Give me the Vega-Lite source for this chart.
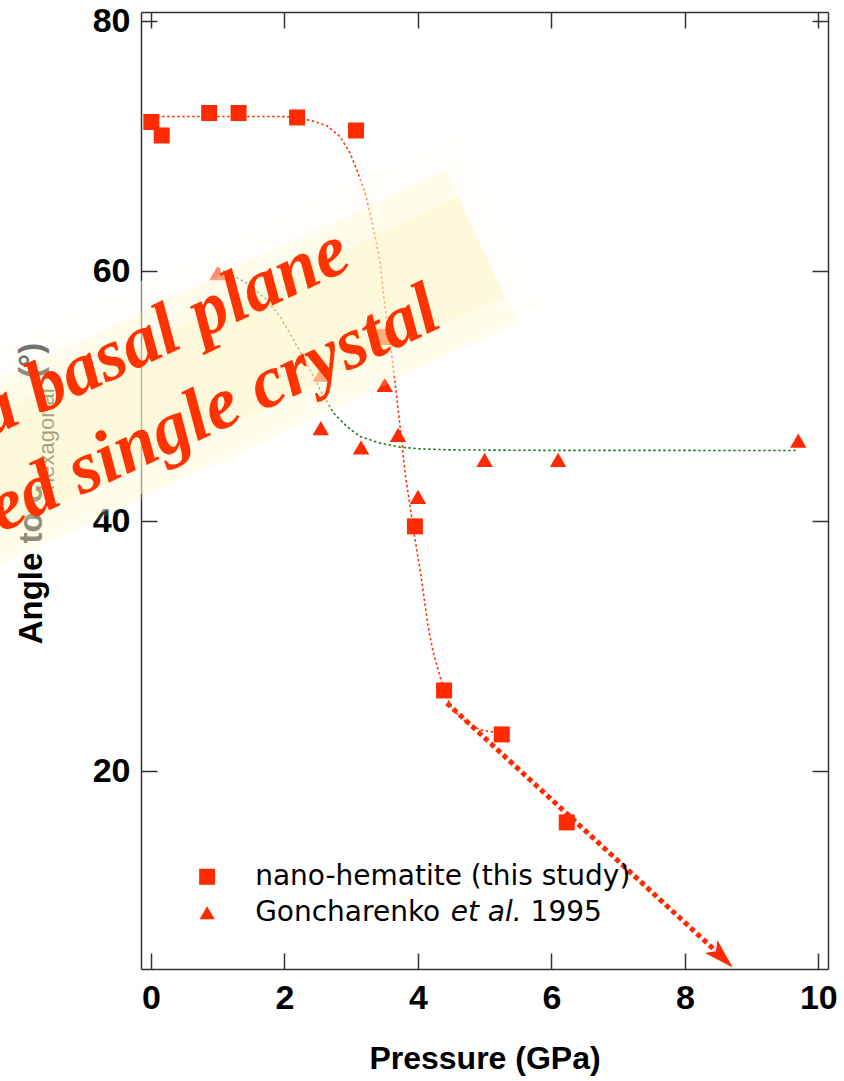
{
  "$schema": "https://vega.github.io/schema/vega-lite/v6.json",
  "autosize": {"type": "none"},
  "padding": {"left": 141, "top": 12, "right": 16, "bottom": 112},
  "width": 687,
  "height": 957,
  "background": "white",
  "config": {"view": {"stroke": null}},
  "datasets": {
    "squares": [
      {"p": 0.007, "a": 71.94}, {"p": 0.162, "a": 70.86}, {"p": 0.873, "a": 72.66},
      {"p": 1.314, "a": 72.66}, {"p": 2.191, "a": 72.30}, {"p": 3.074, "a": 71.26},
      {"p": 3.504, "a": 54.73}, {"p": 3.956, "a": 39.58}, {"p": 4.393, "a": 26.45},
      {"p": 5.258, "a": 22.93}, {"p": 6.231, "a": 15.89}
    ],
    "triangles": [
      {"p": 0.999, "a": 59.84}, {"p": 2.546, "a": 51.73}, {"p": 2.546, "a": 47.44},
      {"p": 3.149, "a": 45.91}, {"p": 3.504, "a": 50.90}, {"p": 3.704, "a": 46.90},
      {"p": 4.002, "a": 41.94}, {"p": 5.000, "a": 44.90}, {"p": 6.101, "a": 44.90},
      {"p": 9.700, "a": 46.45}
    ],
    "fitRed": [
      {"p": 0.019, "a": 72.38}, {"p": 0.738, "a": 72.38}, {"p": 1.488, "a": 72.38},
      {"p": 2.042, "a": 72.37}, {"p": 2.237, "a": 72.24}, {"p": 2.431, "a": 72.02},
      {"p": 2.641, "a": 71.62}, {"p": 2.835, "a": 70.77}, {"p": 2.985, "a": 69.44},
      {"p": 3.105, "a": 67.84}, {"p": 3.210, "a": 66.24}, {"p": 3.285, "a": 64.64},
      {"p": 3.360, "a": 62.77}, {"p": 3.435, "a": 60.66}, {"p": 3.495, "a": 57.70},
      {"p": 3.585, "a": 54.26}, {"p": 3.659, "a": 51.06}, {"p": 3.734, "a": 47.54},
      {"p": 3.809, "a": 43.86}, {"p": 3.884, "a": 41.14}, {"p": 3.959, "a": 38.50},
      {"p": 4.049, "a": 35.54}, {"p": 4.154, "a": 31.54}, {"p": 4.229, "a": 29.54},
      {"p": 4.333, "a": 27.54}, {"p": 4.408, "a": 26.26}, {"p": 4.483, "a": 25.30},
      {"p": 4.603, "a": 24.50}, {"p": 4.738, "a": 23.86}, {"p": 4.933, "a": 23.30},
      {"p": 5.127, "a": 23.12}, {"p": 5.232, "a": 23.06}
    ],
    "fitGreen": [
      {"p": 1.013, "a": 60.24}, {"p": 1.438, "a": 59.04}, {"p": 1.738, "a": 57.70},
      {"p": 1.937, "a": 56.37}, {"p": 2.136, "a": 54.50}, {"p": 2.337, "a": 52.64},
      {"p": 2.537, "a": 50.50}, {"p": 2.737, "a": 48.64}, {"p": 2.937, "a": 47.57},
      {"p": 3.135, "a": 46.77}, {"p": 3.435, "a": 46.24}, {"p": 3.734, "a": 45.92},
      {"p": 4.034, "a": 45.78}, {"p": 4.483, "a": 45.70}, {"p": 5.981, "a": 45.66},
      {"p": 7.479, "a": 45.66}, {"p": 9.681, "a": 45.65}
    ],
    "band": [{"p": -3.755, "a": 41.63}, {"p": 5.268, "a": 64.26}],
    "glow": [{"p": -3.755, "a": 40.20}, {"p": 4.950, "a": 62.00}],
    "arrow": [{"p": 4.435, "a": 25.44}, {"p": 8.435, "a": 5.74}],
    "arrowHead": [{"p": 8.556, "a": 5.12}],
    "overlay": [
      {"p": 3.045, "a": 60.30, "t": "a basal plane"},
      {"p": 4.395, "a": 55.60, "t": "ed single crystal"}
    ],
    "ytitleBig": [
      {"p": -1.628, "a": 30.14, "t": "Angle to c"},
      {"p": -1.628, "a": 51.46, "t": "(°)"}
    ],
    "ytitleSub": [{"p": -1.449, "a": 42.50, "t": "hexagonal"}],
    "legSquare": [{"p": 0.843, "a": 11.54}],
    "legTriangle": [{"p": 0.843, "a": 8.66}],
    "legText": [
      {"p": 1.562, "a": 11.54, "t": "nano-hematite (this study)"},
      {"p": 1.562, "a": 8.66, "t": "Goncharenko"},
      {"p": 5.689, "a": 8.66, "t": "1995"}
    ],
    "legItalic": [{"p": 4.492, "a": 8.66, "t": "et al."}]
  },
  "resolve": {"axis": {"x": "independent", "y": "independent"}},
  "layer": [
    {
      "data": {"name": "fitRed"},
      "mark": {"type": "line", "color": "#ff3300", "strokeWidth": 1.6, "strokeDash": [2.5, 2.5], "clip": false},
      "encoding": {
        "x": {"field": "p", "type": "quantitative", "scale": {"domain": [-0.148, 10.145], "nice": false, "zero": false},
          "axis": {"orient": "bottom", "values": [0, 2, 4, 6, 8, 10], "tickSize": -16, "tickColor": "#333", "tickWidth": 1.5,
            "domainColor": "#333", "domainWidth": 1.5, "grid": false, "labelFont": "Liberation Sans", "labelFontSize": 34,
            "labelFontWeight": "bold", "labelColor": "#000", "labelPadding": 28, "labelFlush": false,
            "title": "Pressure (GPa)", "titleFont": "Liberation Sans", "titleFontSize": 32, "titleFontWeight": "bold",
            "titleColor": "#000", "titlePadding": 28}},
        "y": {"field": "a", "type": "quantitative", "scale": {"domain": [4.16, 80.74], "nice": false, "zero": false},
          "axis": {"orient": "left", "values": [20, 40, 60, 80], "tickSize": -16, "tickColor": "#333", "tickWidth": 1.5,
            "domainColor": "#333", "domainWidth": 1.5, "grid": false, "labelFont": "Liberation Sans", "labelFontSize": 34,
            "labelFontWeight": "bold", "labelColor": "#000", "labelPadding": 27, "labelFlush": false, "title": null}}
      }
    },
    {
      "data": {"name": "fitGreen"},
      "mark": {"type": "line", "color": "#1e7b1e", "strokeWidth": 1.6, "strokeDash": [2.5, 2.5], "clip": false},
      "encoding": {
        "x": {"field": "p", "type": "quantitative", "scale": {"domain": [-0.148, 10.145], "nice": false, "zero": false},
          "axis": {"orient": "top", "values": [0, 2, 4, 6, 8, 10], "tickSize": -16, "tickColor": "#333", "tickWidth": 1.5,
            "domainColor": "#333", "domainWidth": 1.5, "grid": false, "labels": false, "title": null}},
        "y": {"field": "a", "type": "quantitative", "scale": {"domain": [4.16, 80.74], "nice": false, "zero": false},
          "axis": {"orient": "right", "values": [20, 40, 60, 80], "tickSize": -16, "tickColor": "#333", "tickWidth": 1.5,
            "domainColor": "#333", "domainWidth": 1.5, "grid": false, "labels": false, "title": null}}
      }
    },
    {
      "data": {"name": "squares"},
      "mark": {"type": "point", "shape": "square", "filled": true, "size": 256, "color": "#ff2a00", "opacity": 1},
      "encoding": {
        "x": {"field": "p", "type": "quantitative", "scale": {"domain": [-0.148, 10.145], "nice": false, "zero": false}, "axis": null},
        "y": {"field": "a", "type": "quantitative", "scale": {"domain": [4.16, 80.74], "nice": false, "zero": false}, "axis": null}
      }
    },
    {
      "data": {"name": "triangles"},
      "mark": {"type": "point", "shape": "triangle-up", "filled": true, "size": 270, "color": "#ff2a00", "opacity": 1},
      "encoding": {
        "x": {"field": "p", "type": "quantitative", "scale": {"domain": [-0.148, 10.145], "nice": false, "zero": false}, "axis": null},
        "y": {"field": "a", "type": "quantitative", "scale": {"domain": [4.16, 80.74], "nice": false, "zero": false}, "axis": null}
      }
    },
    {
      "data": {"name": "ytitleBig"},
      "mark": {"type": "text", "angle": 270, "align": "left", "baseline": "alphabetic", "font": "Liberation Sans", "fontSize": 33, "fontWeight": "bold", "color": "#000"},
      "encoding": {
        "x": {"field": "p", "type": "quantitative", "scale": {"domain": [-0.148, 10.145], "nice": false, "zero": false}, "axis": null},
        "y": {"field": "a", "type": "quantitative", "scale": {"domain": [4.16, 80.74], "nice": false, "zero": false}, "axis": null},
        "text": {"field": "t"}
      }
    },
    {
      "data": {"name": "ytitleSub"},
      "mark": {"type": "text", "angle": 270, "align": "left", "baseline": "alphabetic", "font": "Liberation Sans", "fontSize": 22, "color": "#000"},
      "encoding": {
        "x": {"field": "p", "type": "quantitative", "scale": {"domain": [-0.148, 10.145], "nice": false, "zero": false}, "axis": null},
        "y": {"field": "a", "type": "quantitative", "scale": {"domain": [4.16, 80.74], "nice": false, "zero": false}, "axis": null},
        "text": {"field": "t"}
      }
    },
    {
      "data": {"name": "band"},
      "mark": {"type": "line", "color": "#fefdf6", "strokeWidth": 193, "strokeCap": "butt", "opacity": 0.45, "clip": false},
      "encoding": {
        "x": {"field": "p", "type": "quantitative", "scale": {"domain": [-0.148, 10.145], "nice": false, "zero": false}, "axis": null},
        "y": {"field": "a", "type": "quantitative", "scale": {"domain": [4.16, 80.74], "nice": false, "zero": false}, "axis": null}
      }
    },
    {
      "data": {"name": "glow"},
      "mark": {"type": "line", "color": "#fff3b0", "strokeWidth": 170, "strokeCap": "butt", "opacity": 0.2, "clip": false},
      "encoding": {
        "x": {"field": "p", "type": "quantitative", "scale": {"domain": [-0.148, 10.145], "nice": false, "zero": false}, "axis": null},
        "y": {"field": "a", "type": "quantitative", "scale": {"domain": [4.16, 80.74], "nice": false, "zero": false}, "axis": null}
      }
    },
    {
      "data": {"name": "glow"},
      "mark": {"type": "line", "color": "#fff0a0", "strokeWidth": 110, "strokeCap": "butt", "opacity": 0.2, "clip": false},
      "encoding": {
        "x": {"field": "p", "type": "quantitative", "scale": {"domain": [-0.148, 10.145], "nice": false, "zero": false}, "axis": null},
        "y": {"field": "a", "type": "quantitative", "scale": {"domain": [4.16, 80.74], "nice": false, "zero": false}, "axis": null}
      }
    },
    {
      "data": {"name": "overlay"},
      "mark": {"type": "text", "angle": 335, "align": "right", "baseline": "alphabetic", "font": "'Times New Roman', 'Liberation Serif', serif", "fontSize": 74, "fontStyle": "italic", "fontWeight": "bold", "color": "#ff3300"},
      "encoding": {
        "x": {"field": "p", "type": "quantitative", "scale": {"domain": [-0.148, 10.145], "nice": false, "zero": false}, "axis": null},
        "y": {"field": "a", "type": "quantitative", "scale": {"domain": [4.16, 80.74], "nice": false, "zero": false}, "axis": null},
        "text": {"field": "t"}
      }
    },
    {
      "data": {"name": "arrow"},
      "mark": {"type": "line", "color": "#ff2a00", "strokeWidth": 5, "strokeDash": [5, 3.5], "strokeCap": "butt", "clip": false},
      "encoding": {
        "x": {"field": "p", "type": "quantitative", "scale": {"domain": [-0.148, 10.145], "nice": false, "zero": false}, "axis": null},
        "y": {"field": "a", "type": "quantitative", "scale": {"domain": [4.16, 80.74], "nice": false, "zero": false}, "axis": null}
      }
    },
    {
      "data": {"name": "arrowHead"},
      "mark": {"type": "point", "shape": "M0,-1 L0.6,1 L0,0.55 L-0.6,1 Z", "filled": true, "size": 900, "angle": 134, "color": "#ff2a00", "opacity": 1},
      "encoding": {
        "x": {"field": "p", "type": "quantitative", "scale": {"domain": [-0.148, 10.145], "nice": false, "zero": false}, "axis": null},
        "y": {"field": "a", "type": "quantitative", "scale": {"domain": [4.16, 80.74], "nice": false, "zero": false}, "axis": null}
      }
    },
    {
      "data": {"name": "legSquare"},
      "mark": {"type": "point", "shape": "square", "filled": true, "size": 256, "color": "#ff2a00", "opacity": 1},
      "encoding": {
        "x": {"field": "p", "type": "quantitative", "scale": {"domain": [-0.148, 10.145], "nice": false, "zero": false}, "axis": null},
        "y": {"field": "a", "type": "quantitative", "scale": {"domain": [4.16, 80.74], "nice": false, "zero": false}, "axis": null}
      }
    },
    {
      "data": {"name": "legTriangle"},
      "mark": {"type": "point", "shape": "triangle-up", "filled": true, "size": 230, "color": "#ff2a00", "opacity": 1},
      "encoding": {
        "x": {"field": "p", "type": "quantitative", "scale": {"domain": [-0.148, 10.145], "nice": false, "zero": false}, "axis": null},
        "y": {"field": "a", "type": "quantitative", "scale": {"domain": [4.16, 80.74], "nice": false, "zero": false}, "axis": null}
      }
    },
    {
      "data": {"name": "legText"},
      "mark": {"type": "text", "align": "left", "baseline": "middle", "font": "DejaVu Sans", "fontSize": 28, "color": "#000"},
      "encoding": {
        "x": {"field": "p", "type": "quantitative", "scale": {"domain": [-0.148, 10.145], "nice": false, "zero": false}, "axis": null},
        "y": {"field": "a", "type": "quantitative", "scale": {"domain": [4.16, 80.74], "nice": false, "zero": false}, "axis": null},
        "text": {"field": "t"}
      }
    },
    {
      "data": {"name": "legItalic"},
      "mark": {"type": "text", "align": "left", "baseline": "middle", "font": "DejaVu Sans", "fontStyle": "italic", "fontSize": 28, "color": "#000"},
      "encoding": {
        "x": {"field": "p", "type": "quantitative", "scale": {"domain": [-0.148, 10.145], "nice": false, "zero": false}, "axis": null},
        "y": {"field": "a", "type": "quantitative", "scale": {"domain": [4.16, 80.74], "nice": false, "zero": false}, "axis": null},
        "text": {"field": "t"}
      }
    }
  ]
}
